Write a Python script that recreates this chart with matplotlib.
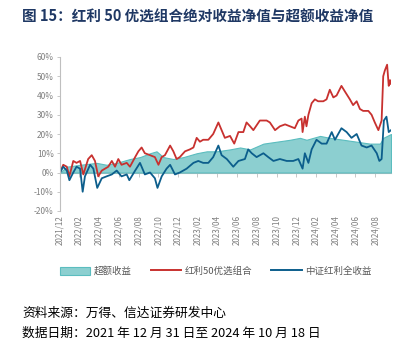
import numpy as np
import pandas as pd
import matplotlib
matplotlib.use("Agg")
import matplotlib.pyplot as plt
import matplotlib.dates as mdates
from matplotlib.patches import Patch
from matplotlib.lines import Line2D

plt.rcParams['font.family'] = ['Noto Sans CJK SC', 'DejaVu Sans']

start = np.datetime64('2021-12-31')

# 红利50优选组合 (days since start, return %)
red_days = [0, 10, 21, 29, 41, 51, 62, 72, 87, 98, 108, 118, 129, 149, 160, 170, 180, 190,
            206, 216, 232, 242, 252, 262, 278, 293, 304, 314, 324, 340, 350, 360, 370, 386,
            401, 412, 422, 432, 442, 458, 473, 489, 499, 509, 525, 538, 551, 566, 576, 587,
            597, 617, 638, 648, 664, 679, 695, 710, 725, 736, 746, 749, 756, 761, 767, 777,
            787, 797, 813, 823, 833, 844, 854, 869, 880, 895, 905, 916, 926, 936, 952, 962,
            972, 983, 993, 998, 1003, 1010, 1015, 1019, 1022]
red_vals = [0, 4, 3, -2, 6, 5, 6, -1, 7, 9, 6, -2, 1, 3, 6, 3, 7, 4,
            5, 3, 8, 11, 13, 10, 9, 8, 4, 8, 9, 14, 11, 7, 8, 11,
            12, 13, 18, 16, 17, 17, 20, 26, 22, 18, 19, 15, 21, 21, 26, 24,
            22, 27, 27, 26, 22, 24, 25, 24, 23, 27, 28, 21, 29, 24, 30, 36,
            38, 37, 37, 38, 43, 39, 40, 45, 42, 38, 35, 37, 33, 32, 32, 30,
            26, 22, 27, 50, 53, 56, 45, 48, 46]

# 中证红利全收益
blue_days = [0, 10, 21, 29, 41, 51, 62, 70, 77, 93, 103, 115, 129, 144, 160, 175, 190, 206,
             214, 232, 247, 262, 278, 293, 301, 314, 329, 340, 355, 370, 391, 412, 427, 442,
             458, 473, 489, 499, 515, 535, 551, 571, 581, 592, 607, 628, 643, 659, 679, 700,
             720, 736, 749, 756, 767, 777, 792, 808, 823, 839, 849, 869, 885, 900, 916, 931,
             947, 962, 978, 986, 993, 1000, 1008, 1015, 1022]
blue_vals = [0, 3, 1, -4, 0, 3, 2, -10, -2, 4, 2, -8, -3, -2, -1, 1, -2, -1,
             -4, 1, 5, -1, 0, -3, -8, -2, 2, 4, -1, 0, 2, 5, 6, 5,
             5, 8, 14, 9, 7, 3, 6, 7, 12, 10, 8, 10, 8, 6, 7, 6,
             6, 7, 2, 10, 5, 12, 17, 15, 15, 21, 17, 23, 21, 18, 20, 14,
             13, 14, 10, 6, 7, 27, 29, 21, 22]

# 超额收益
excess_days = [0, 21, 62, 113, 144, 175, 216, 247, 278, 298, 319, 350, 381, 422, 453, 484,
               525, 556, 587, 628, 669, 710, 741, 761, 803, 833, 875, 916, 957, 988, 998, 1022]
excess_vals = [0, 3, 4, 5, 4, 5, 7, 8, 10, 11, 8, 7, 8, 10, 11, 11,
               12, 13, 12, 15, 16, 17, 18, 17, 19, 18, 17, 16, 15, 15, 18, 20]

red_x = start + np.array(red_days, dtype='timedelta64[D]')
blue_x = start + np.array(blue_days, dtype='timedelta64[D]')
excess_x = start + np.array(excess_days, dtype='timedelta64[D]')

c_red = '#C8312F'
c_blue = '#0C5E8C'
c_area = '#8CCFD0'
c_edge = '#5BBDBF'
c_gray = '#7F7F7F'
c_axis = '#BFBFBF'

fig = plt.figure(figsize=(4.02, 3.46), dpi=100)
ax = fig.add_axes([60 / 402, 1 - 211 / 346, 331 / 402, 154 / 346])

ax.fill_between(excess_x, excess_vals, 0, color=c_area, edgecolor=c_edge, linewidth=0.8)
ax.plot(red_x, red_vals, color=c_red, lw=1.3)
ax.plot(blue_x, blue_vals, color=c_blue, lw=1.3)

ax.set_xlim(start, np.datetime64('2024-10-18'))
ax.set_ylim(-20, 60)
ax.set_yticks(range(-20, 61, 10))
ax.set_yticklabels([f'{v}%' for v in range(-20, 61, 10)])

ticks = pd.date_range('2021-12-31', '2024-08-31', freq='2ME')
ax.set_xticks(ticks)
ax.xaxis.set_major_formatter(mdates.DateFormatter('%Y/%m'))
ax.tick_params(axis='x', rotation=90, length=0, labelsize=5.8, colors=c_gray, pad=3)
ax.tick_params(axis='y', length=2.5, width=0.6, color=c_axis, labelsize=6,
               labelcolor=c_gray, pad=2)

for s in ['top', 'right', 'bottom']:
    ax.spines[s].set_visible(False)
ax.spines['left'].set_color(c_axis)
ax.spines['left'].set_linewidth(0.8)

# horizontal axis line at 0%
zero = ax.secondary_xaxis(0.25)
zero.set_xticks(ticks)
zero.tick_params(axis='x', length=3, width=0.6, color=c_axis, labelbottom=False)
zero.spines['bottom'].set_color(c_axis)
zero.spines['bottom'].set_linewidth(0.8)

handles = [Patch(facecolor=c_area, edgecolor=c_edge, linewidth=0.8),
           Line2D([], [], color=c_red, lw=1.4),
           Line2D([], [], color=c_blue, lw=1.4)]
labels = ['超额收益', '红利50优选组合', '中证红利全收益']
fig.legend(handles, labels, loc='center', bbox_to_anchor=(216 / 402, 1 - 271 / 346),
           ncol=3, frameon=False, fontsize=6.8, labelcolor='#595959',
           handlelength=3.2, handleheight=0.9, handletextpad=0.4, columnspacing=2.0)

fig.text(22 / 402, 1 - 17 / 346, '图 15：红利 50 优选组合绝对收益净值与超额收益净值',
         fontsize=10.5, fontweight='bold', color='#1F3864', va='center', ha='left')
fig.text(22 / 402, 1 - 313 / 346, '资料来源：万得、信达证券研发中心',
         fontsize=9.2, style='italic', color='black', va='center', ha='left')
fig.text(22 / 402, 1 - 333 / 346, '数据日期：2021 年 12 月 31 日至 2024 年 10 月 18 日',
         fontsize=9.2, style='italic', color='black', va='center', ha='left')

fig.savefig('out.png', dpi=100)
